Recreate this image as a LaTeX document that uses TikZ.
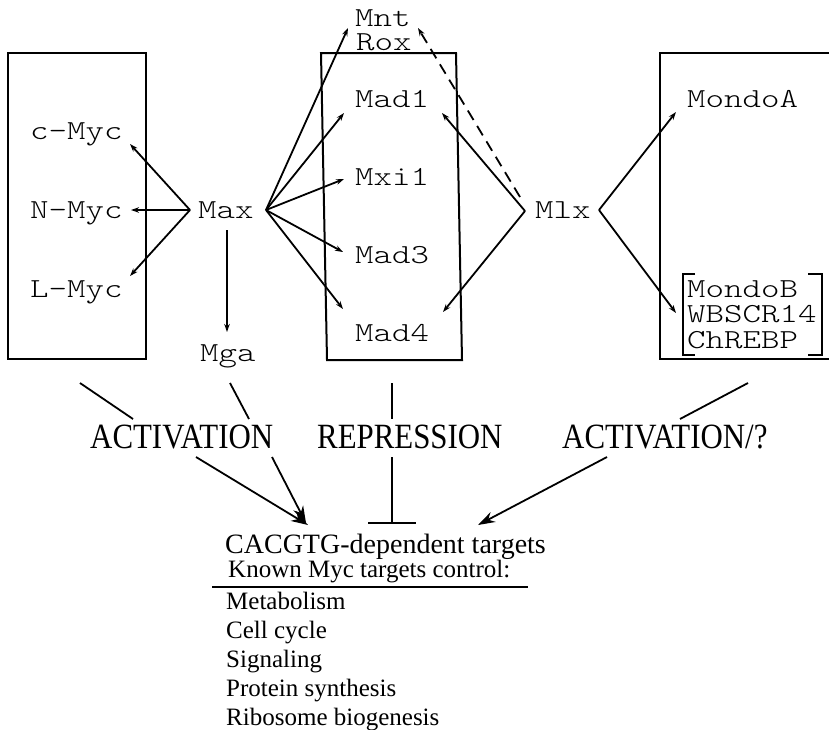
\documentclass[tikz,border=0pt]{standalone}
\usepackage{fontspec}
\usetikzlibrary{arrows.meta}
\newfontfamily\monof[FakeStretch=1.28]{lmmonolt10-regular.otf}
\newfontfamily\serc[FakeStretch=0.87]{Liberation Serif}
\newfontfamily\serf{Liberation Serif}
\begin{document}
\begin{tikzpicture}[x=1pt,y=-1pt,
  lab/.style={font=\monof\fontsize{27.5}{26}\selectfont, inner sep=0pt, anchor=base west},
  big/.style={font=\serc\fontsize{35.5}{35}\selectfont, inner sep=0pt, anchor=base west},
  mid/.style={font=\serf\fontsize{28}{28}\selectfont, inner sep=0pt, anchor=base west},
  txt/.style={font=\serf\fontsize{25}{25}\selectfont, inner sep=0pt, anchor=base west},
  box/.style={line width=2pt},
  arr/.style={line width=1.8pt, -{Stealth[length=8pt,width=5.5pt]}},
  barr/.style={line width=1.8pt, -{Stealth[length=17pt,width=11pt]}},
  con/.style={line width=1.8pt},
  dsh/.style={line width=1.8pt, dash pattern=on 11pt off 7pt, -{Stealth[length=8pt,width=5.5pt]}}]
\useasboundingbox (0,0) rectangle (829,729);

% boxes
\draw[box] (8,53) rectangle (146,359);
\draw[box] (321,53) -- (456,53) -- (462,360) -- (327,360) -- cycle;
\draw[box] (840,53) -- (660,53) -- (660,359) -- (840,359);
\draw[box] (695,274) -- (683,274) -- (683,355) -- (695,355);
\draw[box] (808,274) -- (822,274) -- (822,355) -- (808,355);

% labels
\node[lab] (cmyc) at (30,139) {c-Myc};
\node[lab] (nmyc) at (30,218) {N-Myc};
\node[lab] (lmyc) at (30,297) {L-Myc};
\node[lab] (max) at (198,218) {Max};
\node[lab] (mga) at (200,361) {Mga};
\node[lab] (mnt) at (355,26) {Mnt};
\node[lab] (rox) at (356,50) {Rox};
\node[lab] (mad1) at (355,107) {Mad1};
\node[lab] (mxi1) at (355,185) {Mxi1};
\node[lab] (mad3) at (355,263) {Mad3};
\node[lab] (mad4) at (355,341) {Mad4};
\node[lab] (mlx) at (535,218) {Mlx};
\node[lab] (mondoa) at (687,107) {MondoA};
\node[lab] (mondob) at (687,297) {MondoB};
\node[lab] (wbs) at (687,322) {WBSCR14};
\node[lab] (chrebp) at (687,348) {ChREBP};

% connector end points
\coordinate (maxW) at (190,210);
\coordinate (maxE) at (266,210);
\coordinate (maxS) at (227,230);
\coordinate (cmycE) at (130,144);
\coordinate (nmycE) at (131,210);
\coordinate (lmycE) at (130,276);
\coordinate (mgaN) at (227,332);
\coordinate (mntW) at (348,28);
\coordinate (mad1W) at (344,113);
\coordinate (mxi1W) at (344,179);
\coordinate (mad3W) at (343,252);
\coordinate (mad4W) at (343,309);
\coordinate (mlxW) at (525,211);
\coordinate (mlxN) at (520,197);
\coordinate (mad1E) at (442,113);
\coordinate (mad4E) at (443,312);
\coordinate (roxE) at (418,28);
\coordinate (mlxE) at (599,210);
\coordinate (mondoaW) at (676,112);
\coordinate (mondobW) at (676,313);

% top arrows
\draw[arr] (maxW) -- (cmycE);
\draw[arr] (maxW) -- (nmycE);
\draw[arr] (maxW) -- (lmycE);
\draw[arr] (maxS) -- (mgaN);
\draw[arr] (maxE) -- (mntW);
\draw[arr] (maxE) -- (mad1W);
\draw[arr] (maxE) -- (mxi1W);
\draw[arr] (maxE) -- (mad3W);
\draw[arr] (maxE) -- (mad4W);
\draw[arr] (mlxW) -- (mad1E);
\draw[arr] (mlxW) -- (mad4E);
\draw[dsh] (mlxN) -- (roxE);
\draw[arr] (mlxE) -- (mondoaW);
\draw[arr] (mlxE) -- (mondobW);

% effect labels
\node[big] (act1) at (90,448) {ACTIVATION};
\node[big] (rep) at (317,448) {REPRESSION};
\node[big] (act2) at (562,448) {ACTIVATION/?};

\coordinate (a1) at (80,383);  \coordinate (a1b) at (133,419);
\coordinate (a2) at (230,383); \coordinate (a2b) at (249,419);
\coordinate (r1) at (392,383); \coordinate (r1b) at (392,419);
\coordinate (a3) at (748,383); \coordinate (a3b) at (680,419);
\draw[con] (a1) -- (a1b);
\draw[con] (a2) -- (a2b);
\draw[con] (r1) -- (r1b);
\draw[con] (a3) -- (a3b);

\coordinate (b1) at (196,457); \coordinate (b1t) at (308,525);
\coordinate (b2) at (272,457); \coordinate (b2t) at (306,523);
\coordinate (b3) at (392,457); \coordinate (b3t) at (392,523);
\coordinate (b3l) at (368,523); \coordinate (b3r) at (416,523);
\coordinate (b4) at (607,457); \coordinate (b4t) at (478,525);
\draw[barr] (b1) -- (b1t);
\draw[barr] (b2) -- (b2t);
\draw[con] (b3) -- (b3t);
\draw[con] (b3l) -- (b3r);
\draw[barr] (b4) -- (b4t);

% targets
\node[mid] (cac) at (225,553) {CACGTG-dependent targets};
\node[txt] (known) at (228,577) {Known Myc targets control:};
\coordinate (ul) at (212,587); \coordinate (ur) at (528,587);
\draw[con] (ul) -- (ur);
\node[txt] (t1) at (226,609) {Metabolism};
\node[txt] (t2) at (226,638) {Cell cycle};
\node[txt] (t3) at (226,667) {Signaling};
\node[txt] (t4) at (226,696) {Protein synthesis};
\node[txt] (t5) at (226,725) {Ribosome biogenesis};
\end{tikzpicture}
\end{document}
